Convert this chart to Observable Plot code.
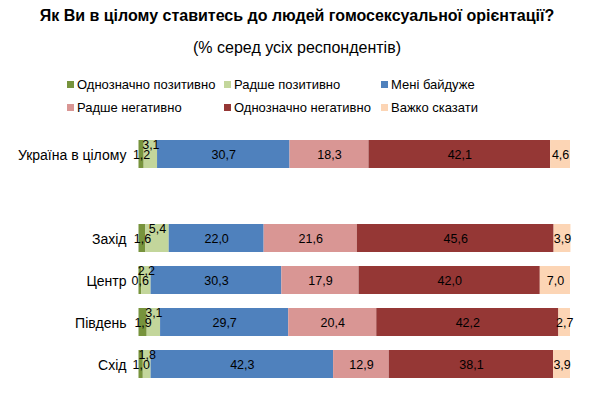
<!DOCTYPE html>
<html>
<head>
<meta charset="utf-8">
<script src="https://cdn.jsdelivr.net/npm/d3@7"></script>
<script src="https://cdn.jsdelivr.net/npm/@observablehq/plot@0.6"></script>
<style>
  body { margin: 0; background: #fff; }
  #wrap { position: relative; width: 599px; height: 393px; font-family: "Liberation Sans", Arial, sans-serif; color: #000; overflow: hidden; }
  .title { position: absolute; left: 0; width: 594px; text-align: center; white-space: nowrap; }
  .leg { position: absolute; font-size: 13px; white-space: nowrap; line-height: 15px; }
  .leg span.sw { display: inline-block; width: 7px; height: 7px; margin-right: 3px; vertical-align: 1px; }
  #chart { position: absolute; left: 0; top: 120px; }
</style>
</head>
<body>
<div id="wrap">
  <div class="title" style="top:7px;font-size:16px;font-weight:bold;">Як Ви в цілому ставитесь до людей гомосексуальної орієнтації?</div>
  <div class="title" style="top:39px;font-size:16px;">(% серед усіх респондентів)</div>
  <div id="legend"></div>
  <div id="chart"></div>
</div>
<script>
const regions = ["Україна в цілому", "Захід", "Центр", "Південь", "Схід"];
const categories = ["Однозначно позитивно", "Радше позитивно", "Мені байдуже", "Радше негативно", "Однозначно негативно", "Важко сказати"];
const colors = ["#77933C", "#C3D69B", "#4F81BD", "#D99694", "#953735", "#FCD5B5"];
const strongPos   = [1.2, 1.6, 0.6, 1.9, 1.0];
const ratherPos   = [3.1, 5.4, 2.2, 3.1, 1.8];
const indifferent = [30.7, 22.0, 30.3, 29.7, 42.3];
const ratherNeg   = [18.3, 21.6, 17.9, 20.4, 12.9];
const strongNeg   = [42.1, 45.6, 42.0, 42.2, 38.1];
const hardToSay   = [4.6, 3.9, 7.0, 2.7, 3.9];

const series = [strongPos, ratherPos, indifferent, ratherNeg, strongNeg, hardToSay];

// Build table with cumulative positions
const rows = [];
regions.forEach((r, i) => {
  let acc = 0;
  series.forEach((s, k) => {
    const v = s[i];
    rows.push({region: r, cat: categories[k], k, value: v, x1: acc, x2: acc + v, mid: acc + v / 2,
      label: v.toFixed(1).replace(".", ",")});
    acc += v;
  });
});

// Legend
const legendCols = [67, 224, 381];
const legendRows = [77, 100];
const legend = document.getElementById("legend");
categories.forEach((c, k) => {
  const d = document.createElement("div");
  d.className = "leg";
  d.style.left = legendCols[k % 3] + "px";
  d.style.top = legendRows[Math.floor(k / 3)] + "px";
  d.innerHTML = `<span class="sw" style="background:${colors[k]}"></span>${c}`;
  legend.appendChild(d);
});

const yDomain = [regions[0], " ", ...regions.slice(1)];

const plot = Plot.plot({
  width: 599,
  height: 273,
  marginLeft: 126, marginRight: 0, marginTop: 0, marginBottom: 0,
  style: {fontFamily: "Liberation Sans, Arial, sans-serif", fontSize: "13px", color: "#000", background: "transparent"},
  x: {domain: [0, 100], range: [138.5, 570], axis: null},
  y: {domain: yDomain, range: [10.65, 266.85], paddingInner: 0.333, paddingOuter: 0.1665, axis: null},
  color: {domain: categories, range: colors},
  marks: [
    Plot.barX(rows, {x1: "x1", x2: "x2", y: "region", fill: "cat"}),
    Plot.axisY(regions, {anchor: "left", tickSize: 0, tickPadding: 0, fontSize: 14, label: null, dy: 1}),
    Plot.text(rows.filter(d => d.k !== 1), {x: "mid", y: "region", text: "label", fontSize: 12.5, fill: "#000"}),
    Plot.text(rows.filter(d => d.k === 1), {x: "mid", y: "region", text: "label", fontSize: 12.5, fill: "#000", dy: -10}),
  ]
});
document.getElementById("chart").appendChild(plot);
</script>
</body>
</html>
